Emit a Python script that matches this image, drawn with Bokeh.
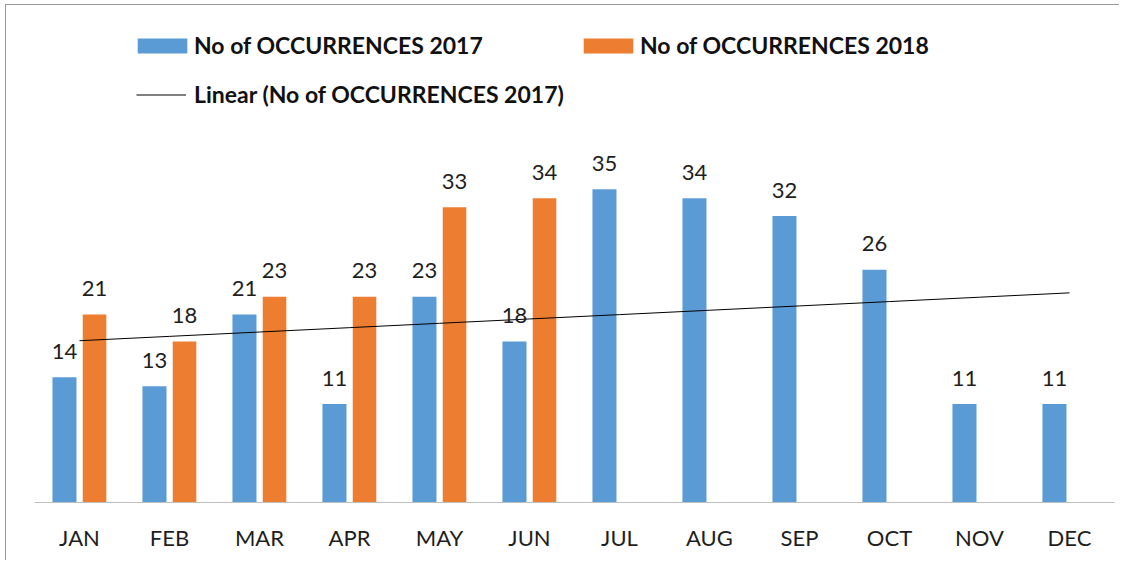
import numpy as np
from bokeh.plotting import figure
from bokeh.models import ColumnDataSource, FactorRange, Range1d, Legend, LegendItem
from bokeh.transform import dodge
from bokeh.core.properties import value
from bokeh.embed import file_html
from bokeh.resources import INLINE

months = ["JAN", "FEB", "MAR", "APR", "MAY", "JUN", "JUL", "AUG", "SEP", "OCT", "NOV", "DEC"]
occ_2017 = [14, 13, 21, 11, 23, 18, 35, 34, 32, 26, 11, 11]
months_2018 = ["JAN", "FEB", "MAR", "APR", "MAY", "JUN"]
occ_2018 = [21, 18, 23, 23, 33, 34]

BLUE = "#5B9BD5"
ORANGE = "#ED7D31"
FONT = "Lato"

# linear trendline of 2017 series (least squares over category index)
idx = np.arange(1, len(occ_2017) + 1)
slope, intercept = np.polyfit(idx, occ_2017, 1)
trend = list(slope * idx + intercept)

src17 = ColumnDataSource(dict(month=months, val=occ_2017, lab=[str(v) for v in occ_2017]))
src18 = ColumnDataSource(dict(month=months_2018, val=occ_2018, lab=[str(v) for v in occ_2018]))
srct = ColumnDataSource(dict(month=months, val=trend))

p = figure(width=1114, height=556, output_backend="svg", toolbar_location=None,
           x_range=FactorRange(*months, range_padding=0), y_range=Range1d(0, 494 / 8.95))
p.min_border_left = 28
p.min_border_right = 6
p.min_border_top = 3
p.min_border_bottom = 59
p.outline_line_color = None
p.xgrid.visible = False
p.ygrid.visible = False
p.yaxis.visible = False
p.styles = {"border-top": "1px solid #9a9a9a", "border-left": "1px solid #9a9a9a",
            "margin-left": "5px", "margin-top": "4px"}

ax = p.xaxis[0]
ax.axis_line_color = "#bfbfbf"
ax.axis_line_width = 1
ax.major_tick_line_color = None
ax.minor_tick_line_color = None
ax.major_label_text_font = FONT
ax.major_label_text_font_size = "22px"
ax.major_label_text_color = "#1e1e1e"
ax.major_label_standoff = 15

r17 = p.vbar(x=dodge("month", -0.167, range=p.x_range), top="val", width=0.267,
             source=src17, fill_color=BLUE, line_color=None)
r18 = p.vbar(x=dodge("month", 0.167, range=p.x_range), top="val", width=0.262,
             source=src18, fill_color=ORANGE, line_color=None)
rt = p.line(x="month", y="val", source=srct, line_color="#000000", line_width=1)

p.text(x=dodge("month", -0.167, range=p.x_range), y="val", text="lab", source=src17,
       text_font=value(FONT), text_font_size="22px", text_color="#1e1e1e",
       text_align="center", text_baseline="alphabetic", y_offset=-26)
p.text(x=dodge("month", 0.167, range=p.x_range), y="val", text="lab", source=src18,
       text_font=value(FONT), text_font_size="22px", text_color="#1e1e1e",
       text_align="center", text_baseline="alphabetic", y_offset=-26)

def mk_legend(item, loc, gw, gh, standoff):
    lg = Legend(items=[item], location=loc, orientation="horizontal",
                glyph_width=gw, glyph_height=gh, label_standoff=standoff,
                label_text_font=FONT, label_text_font_size="23px",
                label_text_font_style="bold", label_text_color="#111111",
                padding=0, margin=0, spacing=0, border_line_color=None,
                background_fill_alpha=0)
    p.add_layout(lg)

mk_legend(LegendItem(label="No of OCCURRENCES 2017", renderers=[r17]), (97, 443), 62, 19, 1)
mk_legend(LegendItem(label="No of OCCURRENCES 2018", renderers=[r18]), (543, 443), 62, 19, 1)
mk_legend(LegendItem(label="Linear (No of OCCURRENCES 2017)", renderers=[rt]), (102, 394), 50, 19, 8)

open("out.html", "w").write(file_html(p, INLINE))
